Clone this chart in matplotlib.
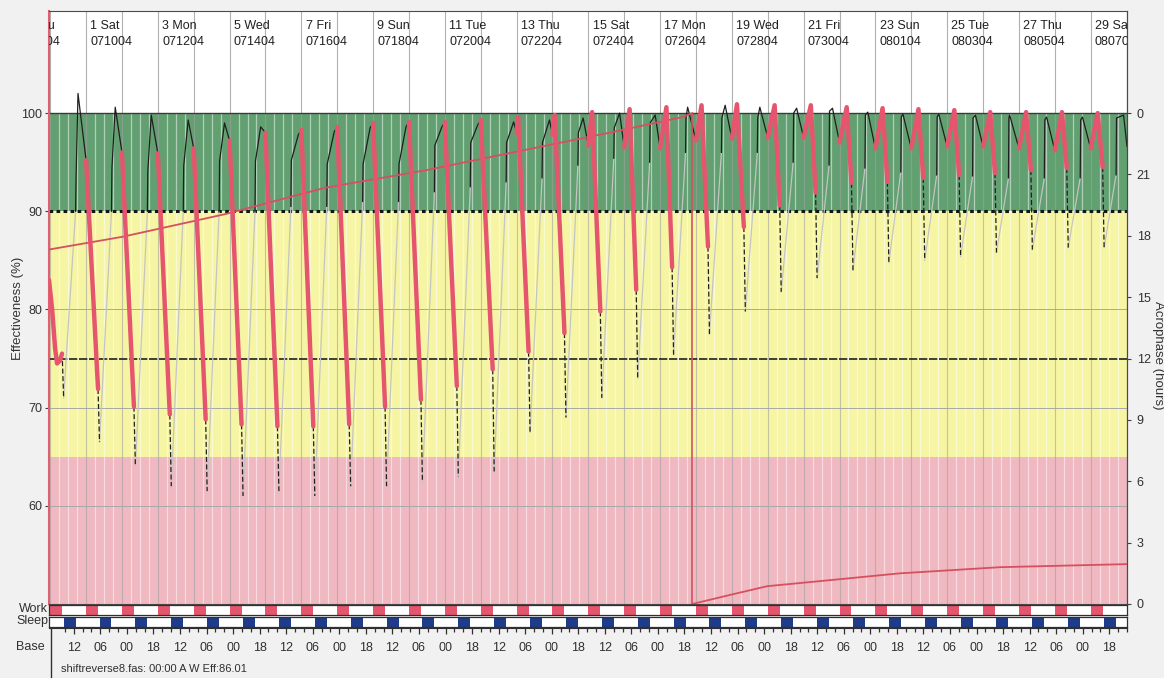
"""FAST-style effectiveness plot for a reversing night-shift schedule."""
import matplotlib

matplotlib.use("Agg")
import matplotlib.pyplot as plt
from matplotlib.lines import Line2D

plt.rcParams["font.family"] = ["Liberation Sans", "DejaVu Sans"]

W, H = 1164, 678
# hours from 00:00 on day 1 (071004)
T_LEFT, T_RIGHT = -24.8, 696.3

# header labels, every second day
hdr_days = [-1, 1, 3, 5, 7, 9, 11, 13, 15, 17, 19, 21, 23, 25, 27, 29]
hdr_names = ["-1 Thu", "1 Sat", "3 Mon", "5 Wed", "7 Fri", "9 Sun", "11 Tue", "13 Thu",
             "15 Sat", "17 Mon", "19 Wed", "21 Fri", "23 Sun", "25 Tue", "27 Thu", "29 Sat"]
hdr_dates = ["070804", "071004", "071204", "071404", "071604", "071804", "072004", "072204",
             "072404", "072604", "072804", "073004", "080104", "080304", "080504", "080704"]

# base clock: a label every 18 h
base_first = -8.0
base_cycle = ["12", "06", "00", "18"]
n_base = 40

# schedule: work 00-08, sleep 09-17 every day
work_days = list(range(0, 30))
work_on, work_len = 0.0, 8.0
sleep_on, sleep_len = 9.0, 8.0

# first (partial) work period
c0_t = [-24.8, -22.7, -20.7, -19.4, -17.4, -16.1]
c0_e = [83.0, 80.0, 76.0, 74.5, 74.8, 75.5]
c0_min = 71.0

# work days 1..29: effectiveness at work start, work peak (and its hour), work end,
# and the low point reached right after work
ws = [95.2, 96.0, 95.9, 96.4, 97.2, 98.0, 98.3, 98.6, 99.0, 99.1, 99.1, 99.3, 98.0, 97.8,
      96.7, 96.5, 96.4, 97.2, 97.4, 97.5, 97.5, 97.0, 96.4, 96.4, 96.6, 96.6, 96.4, 96.2, 96.4]
wp = [95.2, 96.0, 95.9, 96.4, 97.2, 98.0, 98.3, 98.6, 99.0, 99.1, 99.1, 99.3, 99.6, 99.8,
      100.1, 100.4, 100.6, 100.8, 100.9, 100.8, 100.8, 100.6, 100.5, 100.4, 100.3, 100.1,
      100.1, 100.1, 100.0]
wp_h = [0, 0, 0, 0, 0, 0, 0, 0, 0, 0, 0, 0, 1.0, 1.5,
        2.5, 3.6, 4.2, 3.7, 3.4, 4.6, 4.8, 4.8, 4.8, 4.8, 4.8, 4.8, 4.8, 4.8, 4.7]
we = [71.9, 70.1, 69.3, 68.8, 68.3, 68.1, 68.1, 68.3, 70.1, 70.8, 72.2, 73.9, 75.7, 77.6,
      79.8, 82.0, 84.3, 86.4, 88.4, 90.6, 91.9, 92.9, 93.0, 93.4, 93.7, 93.9, 94.2, 94.4, 94.5]
mn = [66.5, 64.0, 62.0, 61.5, 61.0, 61.5, 61.0, 62.0, 62.0, 62.5, 63.0, 63.5, 67.5, 69.0,
      71.0, 73.0, 75.4, 77.5, 79.8, 81.8, 83.2, 84.0, 84.8, 85.0, 85.4, 85.8, 86.1, 86.3, 86.3]

# wake periods before work days 1..30: value on waking, after inertia, peak and its hour
g = [90, 90, 90, 90, 90, 90, 90.5, 90.5, 91, 91, 92, 92.5, 93, 93.4, 94.7,
     95.4, 95.0, 96.0, 96.0, 96.0, 95.0, 94.7, 94.4, 94.0, 93.7, 93.6, 93.4, 93.4, 93.4, 93.7]
b = [93.4, 94.4, 94.1, 94.6, 95.1, 95.1, 95.2, 94.8, 94.8, 94.8, 96.7, 97.0, 97.0, 97.0, 98.0,
     98.5, 99.0, 99.5, 99.5, 99.5, 100.0, 100.2, 99.8, 99.6, 99.6, 99.5, 99.5, 99.3, 99.3, 99.5]
k = [102.0, 100.6, 99.8, 99.3, 99.0, 98.6, 97.8, 98.1, 98.5, 98.6, 98.6, 98.8, 99.1, 99.3, 99.5,
     100.0, 99.8, 100.6, 100.8, 100.6, 100.5, 100.5, 100.1, 99.9, 99.9, 99.8, 99.8, 99.6, 99.6, 99.8]
k_h = [18.6, 19.5, 19.6, 20.3, 20.6, 20.8, 22, 22, 22, 22, 22, 22, 22, 22, 20.5,
       20.9, 20.7, 18.4, 19.5, 18.7, 19.3, 19.3, 18.9, 18.4, 18.4, 18.9, 17.8, 18.5, 18.5, 22.0]
end_eff = 96.6

# acrophase (hours, unwrapped)
acro_t = [-24.8, 24.1, 93.0, 159.9, 226.8, 287.0, 353.9, 398.7, 405.5,
          432.8, 455.6, 502.4, 544.5, 611.4, 696.3]
acro_h = [17.33, 17.95, 19.06, 20.35, 21.2, 22.1, 23.1, 23.8, 24.0,
          24.48, 24.87, 25.2, 25.5, 25.8, 25.95]
acro_wrap = 8

GREEN, YELLOW, PINKBAND = "#62a071", "#f6f5a4", "#f0b8c1"
PINK, NAVY = "#e5566e", "#1f3c8a"


def eff2acro(e):
    return (e - 50.0) * 24.0 / 50.0


def acro2eff(a):
    return 50.0 + a * 50.0 / 24.0


fig = plt.figure(figsize=(W / 100, H / 100), dpi=100, facecolor="#f1f1f1")
ax = fig.add_axes([49 / W, (H - 604) / H, 1078 / W, 593 / H])
ax.set_xlim(T_LEFT, T_RIGHT)
ax.set_ylim(50, 110.4)
ax.set_facecolor("white")

ax.axhspan(90, 100, color=GREEN, lw=0, zorder=0)
ax.axhspan(65, 90, color=YELLOW, lw=0, zorder=0)
ax.axhspan(50, 65, color=PINKBAND, lw=0, zorder=0)
six = [h for h in range(-24, 697, 6) if h % 24 != 0]
ax.vlines(six, 50, 100, colors="white", alpha=0.5, lw=0.9, zorder=0.5)
days = list(range(-24, 697, 24))
ax.vlines(days, 100, 110.4, colors="#b0b0b0", lw=0.8, zorder=0.6)
ax.vlines(days, 50, 100, colors="#a0a0a0", alpha=0.6, lw=0.8, zorder=0.6)

ax.axhline(100, color="#3a3a3a", lw=1.0, zorder=1)
for y in (80, 70, 60):
    ax.axhline(y, color="#a8a8a8", lw=0.7, zorder=1)
ax.axhline(90, color="#151515", lw=2.2, ls=(0, (1.2, 1.1)), zorder=2)
ax.axhline(75, color="#202020", lw=1.2, ls=(0, (5, 1)), zorder=2)

# effectiveness trace
line_kw = dict(solid_capstyle="round", solid_joinstyle="round")
ax.plot(c0_t, c0_e, color=PINK, lw=3.2, zorder=5, **line_kw)
ax.plot([-16.0, -15.0], [c0_e[-1], c0_min], color="#202020", lw=0.9, ls=(0, (4, 2)), zorder=4)
ax.plot([-15.0, -24 + sleep_on + sleep_len], [c0_min, g[0]], color="#c4c4c4", lw=0.9, zorder=3)

for j in range(30):
    ts = 24.0 * (j - 1)
    if j > 0:
        i = j - 1
        pt = [ts] + ([ts + wp_h[i]] if wp_h[i] > 0 else []) + [ts + 8]
        pe = [ws[i]] + ([wp[i]] if wp_h[i] > 0 else []) + [we[i]]
        ax.plot(pt, pe, color=PINK, lw=3.2, zorder=5, **line_kw)
        ax.plot([ts + 8, ts + 9], [we[i], mn[i]], color="#202020", lw=0.9,
                ls=(0, (4, 2)), zorder=4)
        ax.plot([ts + 9, ts + 17], [mn[i], g[j]], color="#c4c4c4", lw=0.9, zorder=3)
    t_end = ts + 24 if j < 29 else T_RIGHT
    e_end = ws[j] if j < 29 else end_eff
    ax.plot([ts + 17, ts + 17.3, ts + k_h[j], t_end], [g[j], b[j], k[j], e_end],
            color="#1e1e1e", lw=0.9, zorder=4)

# acrophase
ax.plot(acro_t[:acro_wrap + 1], [acro2eff(a) for a in acro_h[:acro_wrap + 1]],
        color="#d6505f", lw=1.3, zorder=4.5)
ax.plot(acro_t[acro_wrap:], [acro2eff(a - 24) for a in acro_h[acro_wrap:]],
        color="#d6505f", lw=1.3, zorder=4.5)
ax.vlines(acro_t[acro_wrap], acro2eff(0), acro2eff(24), colors="#d6505f", lw=1.2, zorder=4.5)

# header
for d, name, date in zip(hdr_days, hdr_names, hdr_dates):
    t = 24.0 * (d - 1) + 2.8
    ax.text(t, 109.5, name, ha="left", va="top", fontsize=9, color="#202020", clip_on=True)
    ax.text(t, 107.85, date, ha="left", va="top", fontsize=9, color="#202020", clip_on=True)

ax.set_xticks([])
ax.set_yticks([60, 70, 80, 90, 100])
ax.tick_params(axis="y", length=3, width=0.8, color="#404040", labelsize=9,
               labelcolor="#303030", pad=2)
for side in ("top", "right", "bottom"):
    ax.spines[side].set_color("#4a4a4a")
ax.spines["left"].set_color("#e0606f")
ax.spines["left"].set_linewidth(1.5)

sec = ax.secondary_yaxis("right", functions=(eff2acro, acro2eff))
sec.set_yticks([0, 3, 6, 9, 12, 15, 18, 21, 24],
               labels=["0", "3", "6", "9", "12", "15", "18", "21", "0"])
sec.tick_params(length=3, width=0.8, color="#404040", labelsize=9, labelcolor="#303030", pad=4)
sec.spines["right"].set_color("#4a4a4a")

fig.text(18 / W, 1 - 308 / H, "Effectiveness (%)", rotation=90, ha="center", va="center",
         fontsize=9.5, color="#333333")
fig.text(1158 / W, 1 - 355 / H, "Acrophase (hours)", rotation=270, ha="center", va="center",
         fontsize=9.5, color="#333333")

# work / sleep rows
row_w = fig.add_axes([49 / W, (H - 615) / H, 1078 / W, 10 / H])
row_s = fig.add_axes([49 / W, (H - 627) / H, 1078 / W, 10 / H])
row_w.broken_barh([(24.0 * (d - 1) + work_on, work_len) for d in work_days], (0, 1),
                  color=PINK, lw=0)
row_s.broken_barh([(24.0 * (d - 1) + sleep_on, sleep_len) for d in work_days], (0, 1),
                  color=NAVY, lw=0)
for r in (row_w, row_s):
    r.set_xlim(T_LEFT, T_RIGHT)
    r.set_ylim(0, 1)
    r.set_xticks([])
    r.set_yticks([])
    r.set_facecolor("white")
    for s in r.spines.values():
        s.set_color("#303030")
        s.set_linewidth(0.9)

fig.text(48 / W, 1 - 609 / H, "Work", ha="right", va="center", fontsize=9, color="#303030")
fig.text(48 / W, 1 - 621 / H, "Sleep", ha="right", va="center", fontsize=9, color="#303030")

# base clock axis
base = fig.add_axes([49 / W, (H - 636) / H, 1078 / W, 8 / H])
base.set_xlim(T_LEFT, T_RIGHT)
base.set_ylim(0, 1)
base.set_facecolor("none")
base.set_yticks([])
base_t = [base_first + 18 * n for n in range(n_base)]
base_lab = [base_cycle[n % 4] for n in range(n_base)]
base.set_xticks(base_t, labels=base_lab)
base.set_xticks([base_first + 6 * n for n in range(-1, 3 * n_base)], minor=True)
base.tick_params(which="both", top=True, bottom=False, labeltop=False, labelbottom=True,
                 direction="in", color="#303030", width=0.9)
base.tick_params(which="major", length=4, labelsize=9, labelcolor="#303030", pad=4)
base.tick_params(which="minor", length=3)
for side in ("left", "right", "bottom"):
    base.spines[side].set_visible(False)
base.spines["top"].set_color("#303030")
fig.add_artist(Line2D([51 / W, 51 / W], [0, 1 - 628 / H], color="#303030", lw=1.0))
fig.text(45 / W, 1 - 647 / H, "Base", ha="right", va="center", fontsize=9, color="#303030")

fig.text(61 / W, 1 - 669 / H, "shiftreverse8.fas: 00:00 A W Eff:86.01", ha="left",
         va="center", fontsize=8, color="#303030")

fig.savefig("out.png", dpi=100, facecolor=fig.get_facecolor())
plt.close(fig)
